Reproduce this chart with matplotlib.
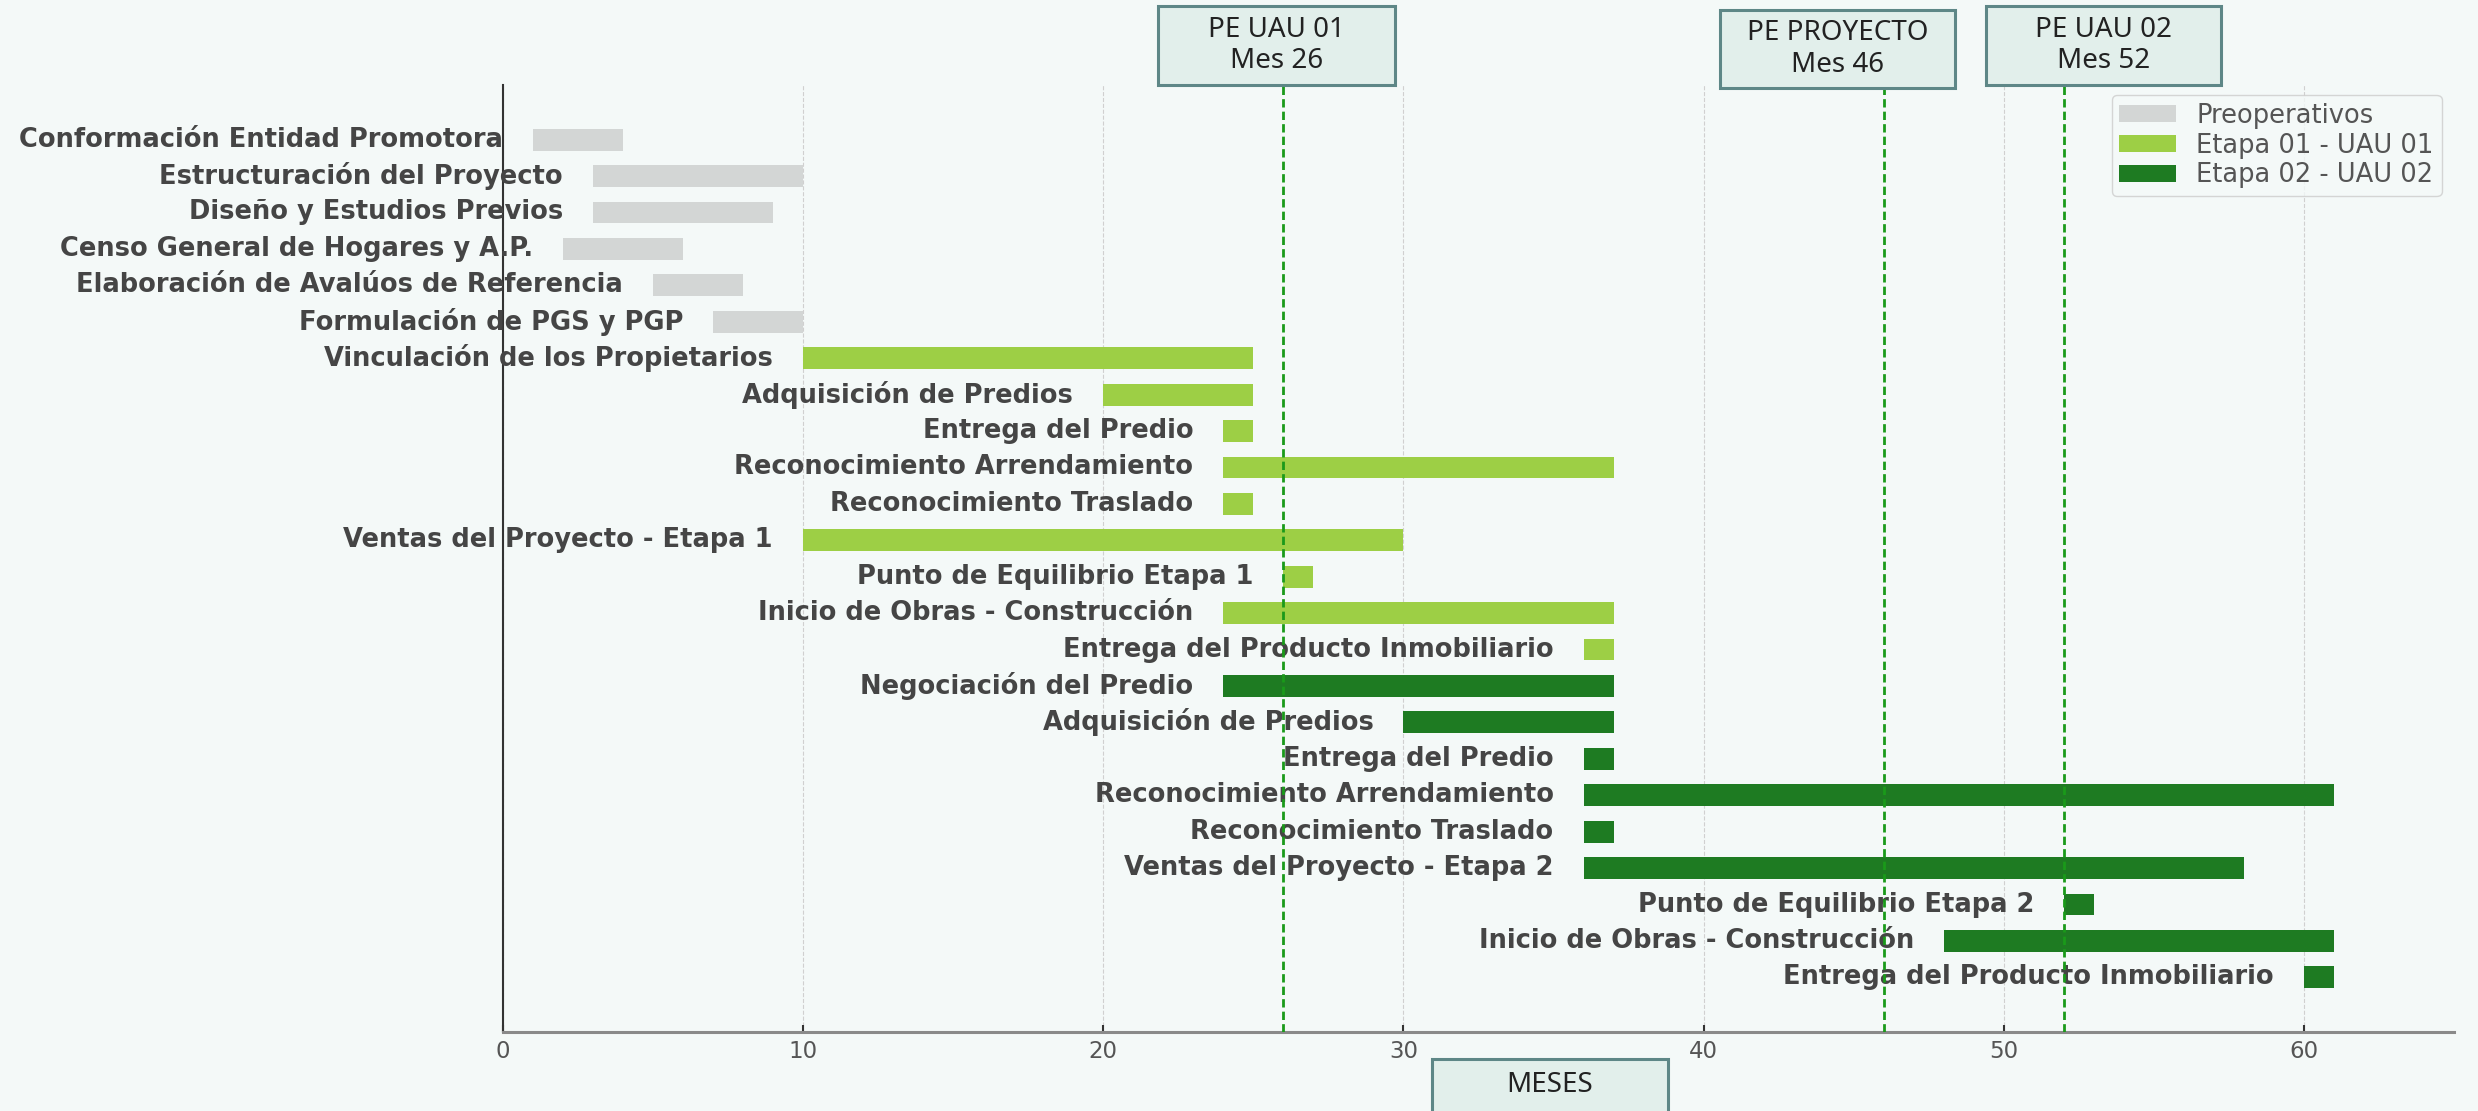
import matplotlib.pyplot as plt
from matplotlib.patches import Patch, Rectangle

##################################
# DATA
##################################

tasks = [
    "Conformación Entidad Promotora",
    "Estructuración del Proyecto",
    "Diseño y Estudios Previos",
    "Censo General de Hogares y A.P.",
    "Elaboración de Avalúos de Referencia",
    "Formulación de PGS y PGP",
    "Vinculación de los Propietarios",
    "Adquisición de Predios",
    "Entrega del Predio",
    "Reconocimiento Arrendamiento",
    "Reconocimiento Traslado",
    "Ventas del Proyecto - Etapa 1",
    "Punto de Equilibrio Etapa 1",
    "Inicio de Obras - Construcción",
    "Entrega del Producto Inmobiliario",
    "Negociación del Predio",
    "Adquisición de Predios",
    "Entrega del Predio",
    "Reconocimiento Arrendamiento",
    "Reconocimiento Traslado",
    "Ventas del Proyecto - Etapa 2",
    "Punto de Equilibrio Etapa 2",
    "Inicio de Obras - Construcción",
    "Entrega del Producto Inmobiliario",
]
start_month = [1, 3, 3, 2, 5, 7,
               10, 20, 24, 24, 24, 10, 26, 24, 36,
               24, 30, 36, 36, 36, 36, 52, 48, 60]
end_month = [4, 10, 9, 6, 8, 10,
             25, 25, 25, 37, 25, 30, 27, 37, 37,
             37, 37, 37, 61, 37, 58, 53, 61, 61]
phase = [0] * 6 + [1] * 9 + [2] * 9

phase_names = ["Preoperativos", "Etapa 01 - UAU 01", "Etapa 02 - UAU 02"]
phase_colors = ["#d3d6d5", "#9dcf45", "#1e7b22"]

milestone_months = [26, 46, 52]
milestone_labels = ["PE UAU 01\nMes 26", "PE PROYECTO\nMes 46", "PE UAU 02\nMes 52"]

x_ticks = [0, 10, 20, 30, 40, 50, 60]

##################################
# PLOTTING
##################################

bg = "#f4f9f8"
box_face = "#e2efeb"
box_edge = "#5e8787"

fig = plt.figure(figsize=(24.78, 11.11), dpi=100, facecolor=bg)
ax = fig.add_axes([0.2029, 0.0711, 0.7875, 0.8524], facecolor=bg)

for i, task in enumerate(tasks):
    s = start_month[i]
    e = end_month[i]
    ax.barh(i, e - s, left=s, height=0.6, color=phase_colors[phase[i]], zorder=2)
    ax.text(s - 1, i, task, ha="right", va="center", fontsize=18.5,
            fontweight="bold", color="#454545", clip_on=False, zorder=3)

for m in milestone_months:
    ax.axvline(m, color="#1a9a1a", linewidth=2, dashes=(3, 1.5), zorder=4)

ax.set_xlim(0, 65)
ax.set_ylim(24.5, -1.5)
ax.set_xticks(x_ticks)
ax.set_yticks([])
ax.grid(axis="x", color="#d0d0d0", linestyle="--", linewidth=0.8, zorder=0)
ax.tick_params(axis="x", direction="in", length=5, width=1.5, color="#333333",
               labelsize=16.5, labelcolor="#555555", pad=6)

ax.spines["top"].set_visible(False)
ax.spines["right"].set_visible(False)
ax.spines["left"].set_color("#333333")
ax.spines["left"].set_linewidth(1.5)
ax.spines["bottom"].set_color("#8a8a8a")
ax.spines["bottom"].set_linewidth(2.2)

handles = [Patch(facecolor=c, label=n) for c, n in zip(phase_colors, phase_names)]
leg = fig.legend(handles=handles, loc="upper right", bbox_to_anchor=(0.9853, 0.9145),
                 fontsize=18.5, frameon=True, fancybox=True, borderaxespad=0,
                 labelspacing=0.15, borderpad=0.3, handlelength=2.2,
                 handleheight=0.6, handletextpad=0.8, labelcolor="#555555")
leg.get_frame().set_edgecolor("#cccccc")
leg.get_frame().set_facecolor(bg)

# milestone boxes (figure pixel coords: left, right, top, bottom)
W, H = 2478, 1111
boxes = [(1158, 1395, 6, 85), (1720, 1955, 10, 88), (1986, 2221, 6, 85)]
for (l, r, t, b), txt in zip(boxes, milestone_labels):
    fig.patches.append(Rectangle((l / W, 1 - b / H), (r - l) / W, (b - t) / H,
                                 transform=fig.transFigure, facecolor=box_face,
                                 edgecolor=box_edge, linewidth=2.2, zorder=5))
    fig.text((l + r) / 2 / W, 1 - (t + b) / 2 / H, txt, ha="center", va="center",
             fontsize=20, family="Noto Sans", color="#222222", linespacing=1.15,
             zorder=6)

# x axis title box
fig.patches.append(Rectangle((1432 / W, 1 - 1138 / H), 236 / W, 79 / H,
                             transform=fig.transFigure, facecolor=box_face,
                             edgecolor=box_edge, linewidth=2.2, zorder=5))
fig.text(1550 / W, 1 - 1085 / H, "MESES", ha="center", va="center",
         fontsize=20, family="Noto Sans", color="#222222", zorder=6)

fig.savefig("out.png", dpi=100, facecolor=bg)
